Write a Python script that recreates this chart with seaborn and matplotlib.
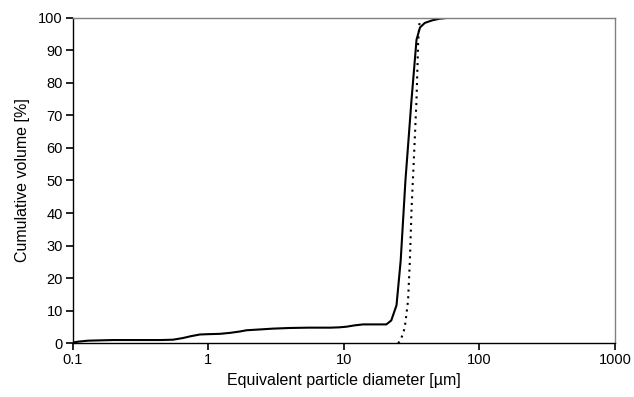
import numpy as np
import pandas as pd
import seaborn as sns
import matplotlib
matplotlib.use("Agg")
import matplotlib.pyplot as plt

# Measured curve (solid)
meas_d = [0.1, 0.11, 0.13, 0.16, 0.2, 0.3, 0.45, 0.55, 0.65, 0.75, 0.87, 1.0, 1.22, 1.45,
          1.7, 1.92, 2.3, 3.0, 4.0, 5.5, 8.0, 9.3, 10.5, 12.0, 13.9, 17.0, 20.6, 22.4,
          24.5, 26.3, 28.5, 31.6, 34.4, 36.5, 39.6, 45.0, 51.0, 60.0, 80.0, 150.0, 288.0]
meas_v = [0.2, 0.5, 0.8, 0.9, 1.0, 1.0, 1.0, 1.1, 1.6, 2.2, 2.7, 2.8, 2.9, 3.2,
          3.6, 4.0, 4.2, 4.5, 4.7, 4.8, 4.8, 4.9, 5.1, 5.5, 5.8, 5.8, 5.8, 7.0,
          11.7, 25.5, 50.0, 74.8, 93.2, 97.0, 98.4, 99.2, 99.7, 100.0, 100.0, 100.0, 100.0]

# Model curve (dotted)
model_d = [25.2, 26.2, 27.4, 28.2, 29.0, 29.8, 30.7, 31.6, 33.0, 34.4, 35.4, 36.2, 36.8]
model_v = [0.0, 1.0, 3.0, 5.0, 9.0, 13.2, 25.0, 41.0, 58.0, 74.8, 93.0, 98.5, 100.0]

x_ticks = [0.1, 1, 10, 100, 1000]
x_tick_labels = ["0.1", "1", "10", "100", "1000"]
y_ticks = list(range(0, 101, 10))
y_tick_labels = [str(v) for v in y_ticks]

df_meas = pd.DataFrame({"d": meas_d, "v": meas_v})
df_model = pd.DataFrame({"d": model_d, "v": model_v})

sns.set_theme(style="ticks")
plt.rcParams["font.family"] = ["Liberation Sans", "DejaVu Sans"]
plt.rcParams["text.color"] = "black"
plt.rcParams["axes.labelcolor"] = "black"

fig = plt.figure(figsize=(6.34, 3.97), dpi=100)
ax = fig.add_axes([0.1144, 0.1353, 0.9700 - 0.1144, 0.9554 - 0.1353])

sns.lineplot(data=df_meas, x="d", y="v", ax=ax, color="black", linewidth=1.5,
             estimator=None, sort=False)
sns.lineplot(data=df_model, x="d", y="v", ax=ax, color="black", linewidth=1.5,
             linestyle=(0, (1.0, 2.2)), estimator=None, sort=False)

ax.set_xscale("log")
ax.set_xlim(0.1, 1000)
ax.set_ylim(0, 100)
ax.set_xticks(x_ticks)
ax.set_xticklabels(x_tick_labels)
ax.xaxis.set_minor_locator(matplotlib.ticker.NullLocator())
ax.set_yticks(y_ticks)
ax.set_yticklabels(y_tick_labels)

ax.tick_params(axis="both", which="major", direction="out", length=5, width=1.2,
               colors="black", labelsize=10.5, pad=2,
               left=True, bottom=True, right=False, top=False)

for s in ["left", "bottom"]:
    ax.spines[s].set_visible(True)
    ax.spines[s].set_color("black")
    ax.spines[s].set_linewidth(1.0)
for s in ["top", "right"]:
    ax.spines[s].set_visible(True)
    ax.spines[s].set_color("#808080")
    ax.spines[s].set_linewidth(1.0)

ax.set_xlabel("Equivalent particle diameter [µm]", fontsize=11.5, labelpad=4)
ax.set_ylabel("Cumulative volume [%]", fontsize=11.5, labelpad=6)
ax.grid(False)

fig.savefig("out.png", dpi=100)
